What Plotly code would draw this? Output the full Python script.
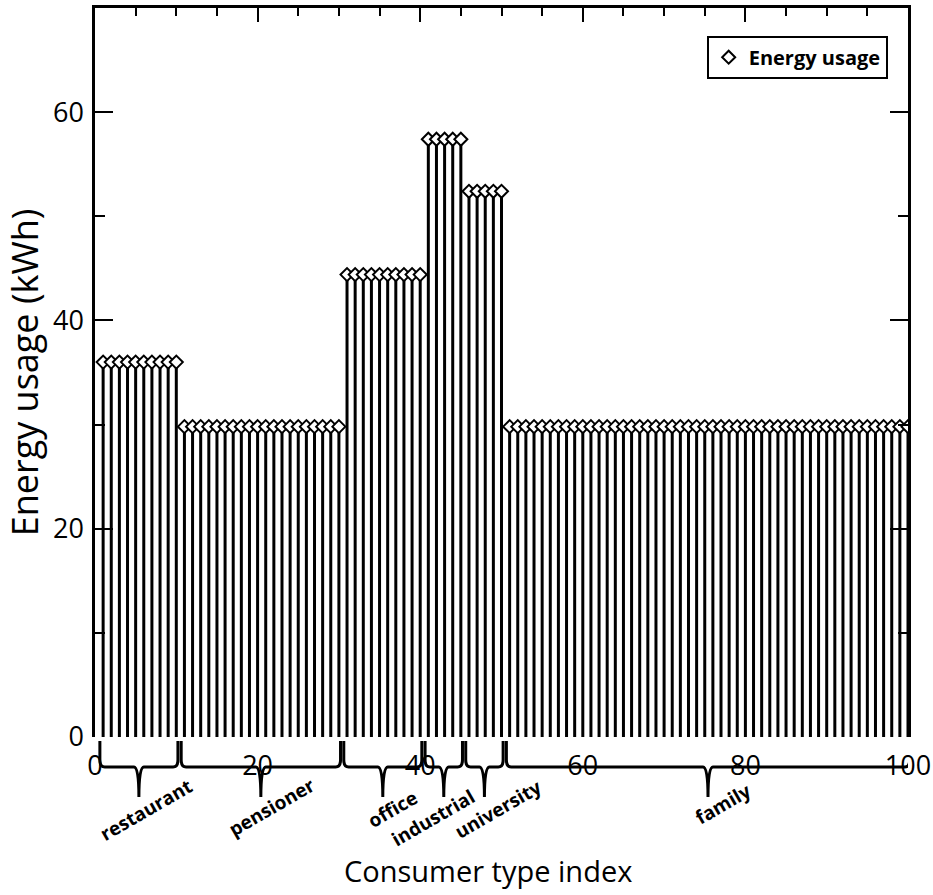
import plotly.graph_objects as go

# ---- data ----
categories = ["restaurant", "pensioner", "office", "industrial", "university", "family"]
group_sizes = [10, 20, 10, 5, 5, 50]
group_usage = [36.0, 29.8, 44.4, 57.4, 52.4, 29.8]
x_tick_vals = [0, 20, 40, 60, 80, 100]
y_tick_vals = [0, 20, 40, 60]

consumer_index = []
energy = []
start = 1
group_bounds = []
for size, usage in zip(group_sizes, group_usage):
    idx = list(range(start, start + size))
    consumer_index += idx
    energy += [usage] * size
    group_bounds.append((idx[0], idx[-1]))
    start += size

FONT = "Open Sans"

fig = go.Figure()
fig.add_trace(go.Scatter(
    x=consumer_index, y=energy, mode="markers", name="Energy usage",
    marker=dict(symbol="diamond", size=10, color="white",
                line=dict(color="black", width=2)),
    error_y=dict(type="data", symmetric=False, array=[0] * len(energy),
                 arrayminus=energy, width=0, thickness=3, color="black"),
    hoverinfo="x+y",
))
# invisible copy to activate the top (mirror) axis
fig.add_trace(go.Scatter(
    x=consumer_index, y=energy, xaxis="x2", mode="markers",
    marker=dict(opacity=0), showlegend=False, hoverinfo="skip",
))

# ---- group brackets under the axis ----
plot_h = 895 - 8 - 158
def py(px_below):
    return -px_below / plot_h

y_top, y_corner, y_h, y_bot = py(4), py(23), py(30), py(60)
shapes = []
annotations = []
label_shift = [(7, -13), (11, -10), (10, -12), (-11, -21), (14, -12), (15, -7)]
for (a, b), name, (dx, dy) in zip(group_bounds, categories, label_shift):
    left, right = a - 0.4, b + 0.2
    c = (left + right) / 2
    r = 0.6
    path = (f"M {left},{y_top} L {left},{y_corner} Q {left},{y_h} {left + r},{y_h} "
            f"L {c - r},{y_h} Q {c},{y_h} {c},{y_bot} "
            f"M {right},{y_top} L {right},{y_corner} Q {right},{y_h} {right - r},{y_h} "
            f"L {c + r},{y_h} Q {c},{y_h} {c},{y_bot}")
    shapes.append(dict(type="path", path=path, xref="x", yref="paper",
                       line=dict(color="black", width=3), layer="above"))
    annotations.append(dict(text=f"<b>{name}</b>", x=c, y=y_bot, xref="x", yref="paper",
                            showarrow=False, textangle=-30, xanchor="center",
                            yanchor="middle", xshift=dx, yshift=dy,
                            font=dict(family=FONT, size=19, color="black")))

# x-axis title (placed slightly left of centre, as in the reference)
annotations.append(dict(text="Consumer type index", x=0.483, y=py(133), xref="paper",
                        yref="paper", showarrow=False, xanchor="center", yanchor="middle",
                        font=dict(family=FONT, size=29, color="black")))

fig.update_layout(
    width=933, height=895,
    margin=dict(l=95, r=25, t=8, b=158),
    plot_bgcolor="white", paper_bgcolor="white",
    font=dict(family=FONT, color="black"),
    shapes=shapes, annotations=annotations,
    showlegend=True,
    legend=dict(x=0.975, xanchor="right", y=0.962, yanchor="top",
                bgcolor="white", bordercolor="black", borderwidth=2,
                font=dict(family=FONT, size=20, color="black", weight="bold")),
    xaxis=dict(range=[0, 100], tickvals=x_tick_vals, showline=False, ticks="",
               showgrid=False, zeroline=False, tickfont=dict(size=27),
               ticklabelstandoff=10, automargin=False),
    xaxis2=dict(overlaying="x", side="top", range=[0, 100], showline=True,
                linewidth=2.5, linecolor="black", ticks="inside", ticklen=14,
                tickwidth=2, tickcolor="black", tick0=0, dtick=20, automargin=False,
                minor=dict(dtick=5, ticklen=8, ticks="inside", tickwidth=2, tickcolor="black"),
                showticklabels=False, showgrid=False, zeroline=False),
    yaxis=dict(range=[0, 70], tickvals=y_tick_vals, showline=True, linewidth=2.5,
               linecolor="black", mirror="ticks", ticks="inside", ticklen=18,
               tickwidth=2, tickcolor="black", automargin=False,
               minor=dict(dtick=10, ticklen=10, ticks="inside", tickwidth=2, tickcolor="black"),
               showgrid=False, zeroline=False, tickfont=dict(size=27),
               ticklabelstandoff=3,
               title=dict(text="Energy usage (kWh)", font=dict(size=36), standoff=4)),
)

fig.write_html("out.html", config={"displayModeBar": False},
               post_script="document.body.style.margin='0px';")
